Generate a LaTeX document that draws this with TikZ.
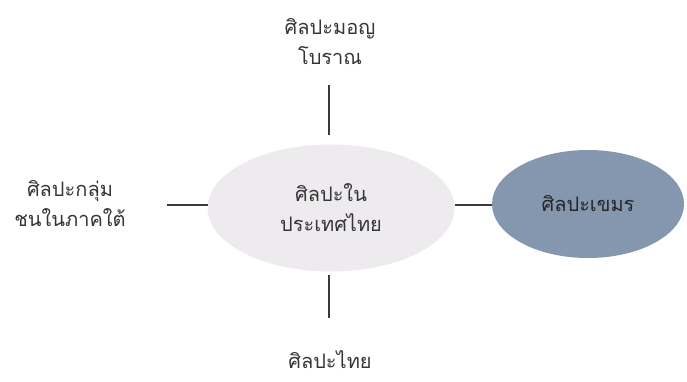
\documentclass[tikz,border=0pt]{standalone}
\usepackage{fontspec}
\usetikzlibrary{shapes.geometric}
\newfontfamily\thaifont[Script=Thai]{Loma}
\definecolor{centergray}{HTML}{EDEBEE}
\definecolor{khmerblue}{HTML}{8597AF}
\definecolor{linegray}{HTML}{3A3A3A}
\definecolor{txtgray}{HTML}{353535}
\begin{document}
\begin{tikzpicture}[x=1pt,y=-1pt,
  lbl/.style={font=\thaifont\fontsize{20}{30}\selectfont, text=txtgray, align=center, inner sep=0pt},
  conn/.style={draw=linegray, line width=1.3pt}]
\useasboundingbox (0,0) rectangle (687,381);
\node[ellipse, fill=centergray, minimum width=247, minimum height=127, inner sep=0pt] (c) at (331,208) {};
\node[lbl] at (c.center) {ศิลปะใน\\ประเทศไทย};
\node[ellipse, fill=khmerblue, minimum width=192, minimum height=108, inner sep=0pt] (k) at (588,204) {};
\node[lbl, text=black!85] at (k.center) {ศิลปะเขมร};
\node[lbl] (top) at (330,42) {ศิลปะมอญ\\โบราณ};
\node[lbl] (left) at (70,204) {ศิลปะกลุ่ม\\ชนในภาคใต้};
\node[lbl] (bot) at (330,360) {ศิลปะไทย};
\coordinate (t1) at (329,85); \coordinate (t2) at (329,135);
\coordinate (b1) at (329,275); \coordinate (b2) at (329,318);
\coordinate (l1) at (167,205); \coordinate (l2) at (208,205);
\coordinate (r1) at (455,205); \coordinate (r2) at (492,205);
\draw[conn] (t1) -- (t2);
\draw[conn] (b1) -- (b2);
\draw[conn] (l1) -- (l2);
\draw[conn] (r1) -- (r2);
\end{tikzpicture}
\end{document}
